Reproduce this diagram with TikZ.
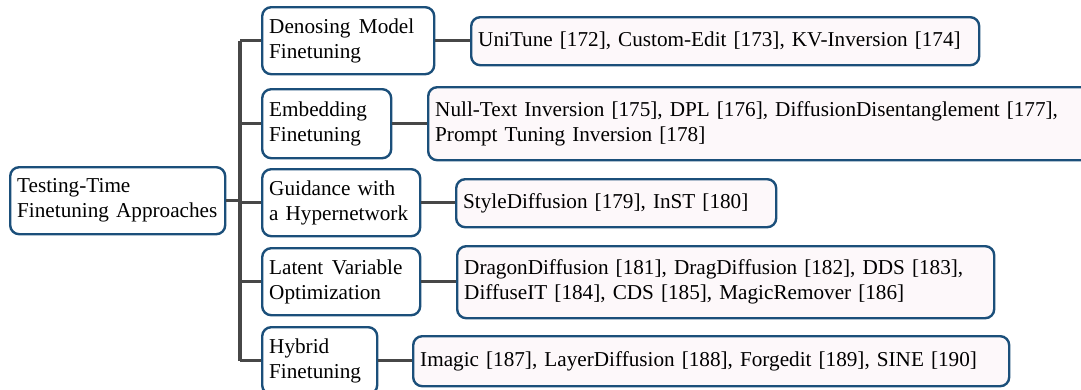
\documentclass[tikz,border=0pt]{standalone}
\usepackage{fontspec}
\setmainfont{Liberation Serif}
\newfontfamily\diagfont{Liberation Serif}
\definecolor{bordercol}{HTML}{1B4F7A}
\definecolor{leaffill}{HTML}{FDF8FA}
\definecolor{linecol}{HTML}{474747}
\begin{document}
\begin{tikzpicture}[x=1pt,y=-1pt,
  font=\diagfont\fontsize{21.2}{25}\selectfont,
  basebox/.style={draw=bordercol, line width=2.4pt, rounded corners=9pt,
    anchor=north west, align=left, inner xsep=7pt, inner ysep=0pt},
  catbox/.style={basebox, fill=white, minimum height=67pt},
  leafbox/.style={basebox, fill=leaffill},
  conn/.style={draw=linecol, line width=3.2pt}]
\useasboundingbox (0,0) rectangle (1081,389);
% root
\node[catbox, text width=201pt] (root) at (9,166) {Testing-Time\\Finetuning Approaches};
% level 1
\node[catbox, text width=158pt] (d1) at (261,6) {Denosing\hspace{0.4em}Model\\Finetuning};
\node[catbox, text width=115pt, minimum height=69pt] (e1) at (261,88) {Embedding\\Finetuning};
\node[catbox, text width=144pt] (g1) at (261,168) {Guidance with\\a Hypernetwork};
\node[catbox, text width=144pt] (l1) at (261,247) {Latent\hspace{0.4em}Variable\\Optimization};
\node[catbox, text width=101pt] (h1) at (261,326) {Hybrid\\Finetuning};
% leaves
\node[leafbox, text width=494pt, minimum height=48pt] (d2) at (470,16) {UniTune [172], Custom-Edit [173], KV-Inversion [174]};
\node[leafbox, text width=649pt, minimum height=73pt] (e2) at (427,86) {Null-Text Inversion [175], DPL [176], DiffusionDisentanglement [177],\\Prompt Tuning Inversion [178]};
\node[leafbox, text width=306pt, minimum height=48pt] (g2) at (455,178) {StyleDiffusion [179], InST [180]};
\node[leafbox, text width=523pt, minimum height=72pt] (l2) at (456,245) {DragonDiffusion [181], DragDiffusion [182], DDS [183],\\DiffuseIT [184], CDS [185], MagicRemover [186]};
\node[leafbox, text width=582pt, minimum height=50pt] (h2) at (412,335) {Imagic [187], LayerDiffusion [188], Forgedit [189], SINE [190]};
% connectors
\coordinate (trunk) at (240,200);
\draw[conn] (root.east) -- (root.east -| trunk);
\draw[conn] (trunk |- d1.west) -- (trunk |- h1.west);
\foreach \n in {d1,e1,g1,l1,h1} {
  \draw[conn] (trunk |- \n.west) -- (\n.west);
}
\draw[conn] (d1.east) -- (d1.east -| d2.west);
\draw[conn] (e1.east) -- (e1.east -| e2.west);
\draw[conn] (g1.east) -- (g1.east -| g2.west);
\draw[conn] (l1.east) -- (l1.east -| l2.west);
\draw[conn] (h1.east) -- (h1.east -| h2.west);
\end{tikzpicture}
\end{document}
